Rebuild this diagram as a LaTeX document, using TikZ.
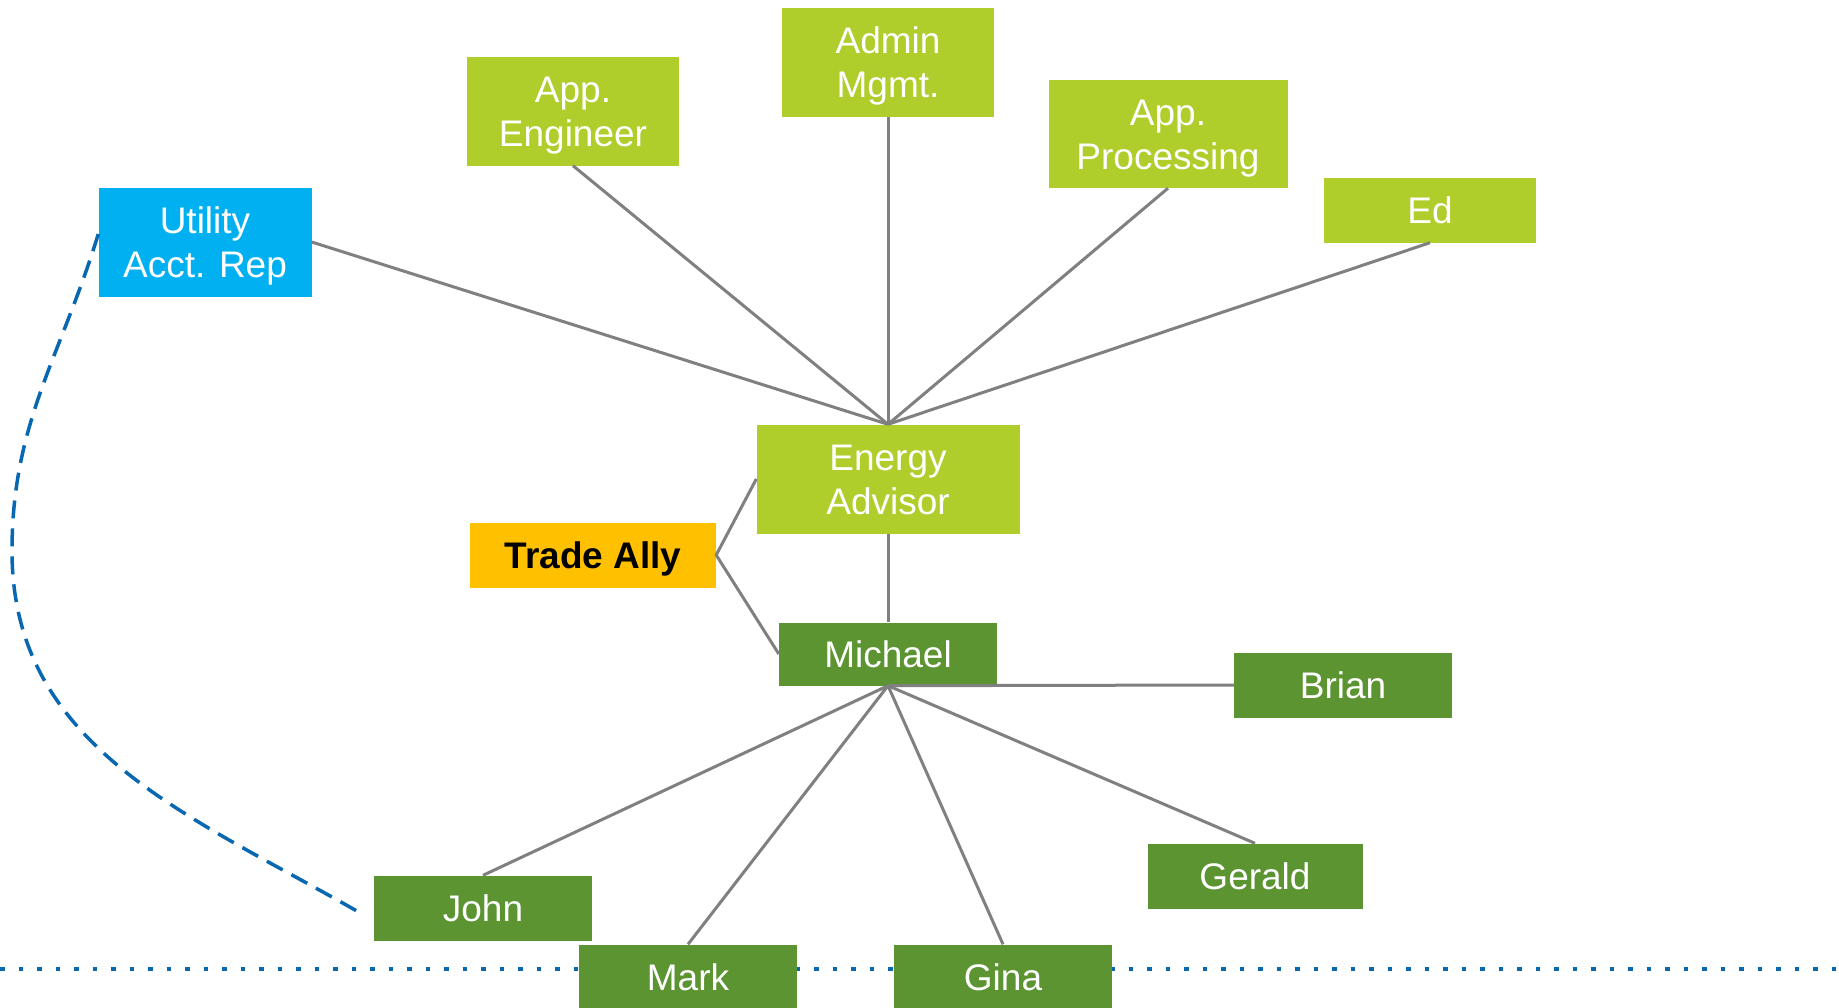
\documentclass[tikz,border=0pt]{standalone}
\usepackage{fontspec}
\setmainfont{Liberation Sans}
\definecolor{lightgreen}{HTML}{AFCD2B}
\definecolor{darkgreen}{HTML}{5B9431}
\definecolor{utilblue}{HTML}{00B0F0}
\definecolor{allyorange}{HTML}{FFC000}
\definecolor{linkgray}{HTML}{808080}
\definecolor{lineblue}{HTML}{0767B1}
\tikzset{
  box/.style={rectangle, inner sep=0pt, align=center, text=white,
    font=\fontsize{37}{44.5}\selectfont, text height=35.6pt, text depth=8pt},
  twolines/.style={text height=79.4pt},
  lgbox/.style={box, fill=lightgreen, minimum width=212pt, minimum height=109pt},
  dgbox/.style={box, fill=darkgreen, minimum width=218pt, minimum height=65pt},
  link/.style={draw=linkgray, line width=3pt},
}
\begin{document}
\begin{tikzpicture}[x=1pt,y=-1pt]
\useasboundingbox (0,0) rectangle (1839,1007);
\fill[white] (0,0) rectangle (1839,1007);

% horizontal dotted boundary
\coordinate (dl) at (0,969);
\coordinate (dr) at (1839,969);
\draw[lineblue, line width=4.5pt, dash pattern=on 4.5pt off 14pt] (dl) -- (dr);

% upper stakeholders
\node[lgbox, twolines] (eng) at (573,111) {App.\\Engineer};
\node[lgbox, twolines] (admin) at (888,62) {Admin\\Mgmt.};
\node[lgbox, twolines, minimum width=239pt, minimum height=108pt] (proc) at (1168,134) {App.\\Processing};
\node[lgbox, minimum height=65pt] (ed) at (1430,210) {Ed};
\node[box, twolines, fill=utilblue, minimum width=213pt, minimum height=109pt] (util) at (205,242) {Utility\\Acct. Rep};
\node[lgbox, twolines, minimum width=263pt] (ea) at (888,479) {Energy\\Advisor};
\node[box, fill=allyorange, text=black, minimum width=246pt, minimum height=65pt,
  font=\fontsize{37}{44.5}\selectfont\bfseries] (ally) at (593,555) {Trade Ally};

% lower team
\node[dgbox, minimum height=63pt] (mich) at (888,654) {Michael};
\node[dgbox] (brian) at (1343,685) {Brian};
\node[dgbox, minimum width=215pt] (gerald) at (1255,876) {Gerald};
\node[dgbox] (john) at (483,908) {John};
\node[dgbox] (mark) at (688,977) {Mark};
\node[dgbox] (gina) at (1003,977) {Gina};

% connectors to the energy advisor
\draw[link] (util.east) -- (ea.north);
\draw[link] (eng.south) -- (ea.north);
\draw[link] (admin.south) -- (ea.north);
\draw[link] (proc.south) -- (ea.north);
\draw[link] (ed.south) -- (ea.north);
\draw[link] (ea.south) -- (mich.north);
\draw[link] (ea.west) -- (ally.east) -- (mich.west);

% connectors from Michael
\draw[link] (mich.south) -- (brian.west);
\draw[link] (mich.south) -- (john.north);
\draw[link] (mich.south) -- (mark.north);
\draw[link] (mich.south) -- (gina.north);
\draw[link] (mich.south) -- (gerald.north);

% dashed relation between utility rep and John
\coordinate (bend) at (12,551);
\draw[lineblue, line width=3.5pt, dash pattern=on 18pt off 10pt]
  ([yshift=8pt]util.west) to[out=253,in=90] (bend)
  to[out=270,in=150] ([xshift=-10pt,yshift=-7pt]john.west);
\end{tikzpicture}
\end{document}
